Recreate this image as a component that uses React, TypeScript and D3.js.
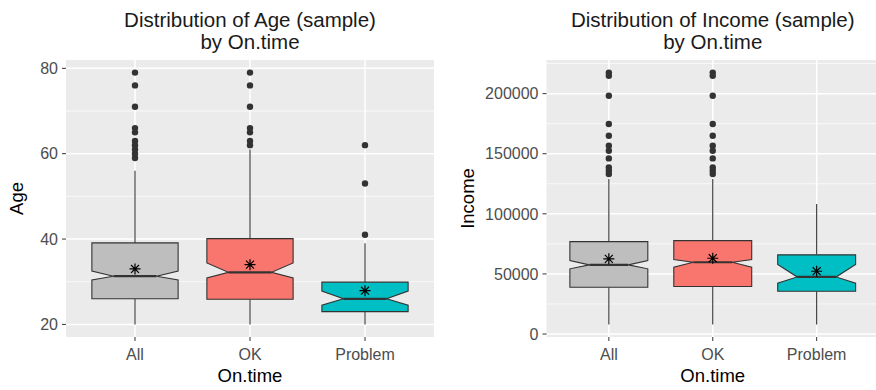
import * as d3 from "d3";

const categories = ["All", "OK", "Problem"];
const boxFills = ["#BEBEBE", "#F8766D", "#00BFC4"];

// Age (sample) by On.time
const ageLower = [20, 20, 20];
const ageQ1 = [26, 25.9, 23];
const ageNotchLo = [30.4, 30.9, 24.5];
const ageMedian = [31.3, 32.2, 26];
const ageNotchHi = [32.5, 34.4, 27.8];
const ageQ3 = [39.1, 40.1, 29.9];
const ageUpper = [56, 61, 39];
const ageMean = [33.0, 34.0, 27.9];
const ageOutliers = [
  [79, 76, 71, 66, 65, 63, 62, 61, 60, 59],
  [79, 76, 71, 66, 65, 63, 62],
  [62, 53, 41],
];
const ageMajor = [20, 40, 60, 80];
const ageMinor = [30, 50, 70];

// Income (sample) by On.time
const incLower = [8000, 8000, 8000];
const incQ1 = [38950, 39540, 35630];
const incNotchLo = [54240, 55570, 42280];
const incMedian = [57560, 59720, 47500];
const incNotchHi = [61130, 61960, 57810];
const incQ3 = [76900, 77740, 65870];
const incUpper = [129000, 129000, 108200];
const incMean = [62540, 63040, 52240];
const incOutliers = [
  [217500, 214800, 198200, 174700, 165000, 156600, 152500, 146100, 138600, 135900, 133100],
  [217500, 214800, 198200, 174700, 165000, 156600, 152500, 146100, 138600, 135900, 133100],
  [],
];
const incMajor = [0, 50000, 100000, 150000, 200000];
const incMinor = [25000, 75000, 125000, 175000, 225000];

const FONT = "'Liberation Sans', Arial, sans-serif";

function Panel({ x0, x1, y0, y1, title, yLabel, yLabelX, lower, q1, notchLo, median, notchHi, q3, upper, mean, outliers, major, minor }) {
  const lo = d3.min(lower);
  const hi = d3.max([...upper, ...outliers.flat()]);
  const pad = (hi - lo) * 0.05;
  const y = d3.scaleLinear().domain([lo - pad, hi + pad]).range([y1, y0]);
  const x = d3.scalePoint().domain(categories).range([x0, x1]).padding(0.6);
  const hw = (x.step() * 0.75) / 2;
  const nhw = hw * 0.5;
  const cx = (x0 + x1) / 2;

  return (
    <g>
      <text x={cx} y={27} textAnchor="middle" fontSize={20.5} fill="#1a1a1a" fontFamily={FONT}>{title}</text>
      <text x={cx} y={49} textAnchor="middle" fontSize={20.5} fill="#1a1a1a" fontFamily={FONT}>by On.time</text>
      <rect x={x0} y={y0} width={x1 - x0} height={y1 - y0} fill="#EBEBEB" />
      {minor.filter(v => y(v) > y0 && y(v) < y1).map(v => (
        <line key={"mi" + v} x1={x0} x2={x1} y1={y(v)} y2={y(v)} stroke="#fff" strokeWidth={0.7} />
      ))}
      {major.map(v => (
        <line key={"ma" + v} x1={x0} x2={x1} y1={y(v)} y2={y(v)} stroke="#fff" strokeWidth={1.5} />
      ))}
      {categories.map(c => (
        <line key={"vx" + c} x1={x(c)} x2={x(c)} y1={y0} y2={y1} stroke="#fff" strokeWidth={1.5} />
      ))}
      {categories.map((c, i) => {
        const px = x(c);
        const yQ3 = y(q3[i]), yQ1 = y(q1[i]), yNH = y(notchHi[i]), yNL = y(notchLo[i]), yM = y(median[i]);
        const path = d3.path();
        path.moveTo(px - hw, yQ3);
        path.lineTo(px + hw, yQ3);
        path.lineTo(px + hw, yNH);
        path.lineTo(px + nhw, yM);
        path.lineTo(px + hw, yNL);
        path.lineTo(px + hw, yQ1);
        path.lineTo(px - hw, yQ1);
        path.lineTo(px - hw, yNL);
        path.lineTo(px - nhw, yM);
        path.lineTo(px - hw, yNH);
        path.closePath();
        const my = y(mean[i]);
        const s = 5.5, d = s * 0.72;
        const star = `M${px - s},${my}L${px + s},${my}M${px},${my - s}L${px},${my + s}M${px - d},${my - d}L${px + d},${my + d}M${px - d},${my + d}L${px + d},${my - d}`;
        return (
          <g key={c}>
            {outliers[i].map((v, j) => (
              <circle key={j} cx={px} cy={y(v)} r={3.2} fill="#333333" />
            ))}
            <line x1={px} x2={px} y1={y(upper[i])} y2={yQ3} stroke="#333333" strokeWidth={1.1} />
            <line x1={px} x2={px} y1={yQ1} y2={y(lower[i])} stroke="#333333" strokeWidth={1.1} />
            <path d={path.toString()} fill={boxFills[i]} stroke="#333333" strokeWidth={1.1} />
            <line x1={px - nhw} x2={px + nhw} y1={yM} y2={yM} stroke="#333333" strokeWidth={2.2} />
            <path d={star} stroke="#000" strokeWidth={1.2} fill="none" />
          </g>
        );
      })}
      {major.map(v => (
        <g key={"yt" + v}>
          <line x1={x0 - 4} x2={x0} y1={y(v)} y2={y(v)} stroke="#333333" strokeWidth={1} />
          <text x={x0 - 8} y={y(v)} dy="0.36em" textAnchor="end" fontSize={16} fill="#4D4D4D" fontFamily={FONT}>{v}</text>
        </g>
      ))}
      {categories.map(c => (
        <g key={"xt" + c}>
          <line x1={x(c)} x2={x(c)} y1={y1} y2={y1 + 4} stroke="#333333" strokeWidth={1} />
          <text x={x(c)} y={y1 + 23} textAnchor="middle" fontSize={16} fill="#4D4D4D" fontFamily={FONT}>{c}</text>
        </g>
      ))}
      <text x={cx} y={382} textAnchor="middle" fontSize={18.5} fill="#000" fontFamily={FONT}>On.time</text>
      <text transform={`translate(${yLabelX},${(y0 + y1) / 2}) rotate(-90)`} textAnchor="middle" fontSize={18.5} fill="#000" fontFamily={FONT}>{yLabel}</text>
    </g>
  );
}

export default function App() {
  return (
    <svg width={876} height={390} style={{ position: "absolute", left: 0, top: 0, background: "#fff" }}>
      <rect width={876} height={390} fill="#fff" />
      <Panel x0={66} x1={434} y0={60} y1={337} title="Distribution of Age (sample)" yLabel="Age" yLabelX={23}
        lower={ageLower} q1={ageQ1} notchLo={ageNotchLo} median={ageMedian} notchHi={ageNotchHi} q3={ageQ3}
        upper={ageUpper} mean={ageMean} outliers={ageOutliers} major={ageMajor} minor={ageMinor} />
      <Panel x0={546.5} x1={879} y0={60} y1={337} title="Distribution of Income (sample)" yLabel="Income" yLabelX={473.5}
        lower={incLower} q1={incQ1} notchLo={incNotchLo} median={incMedian} notchHi={incNotchHi} q3={incQ3}
        upper={incUpper} mean={incMean} outliers={incOutliers} major={incMajor} minor={incMinor} />
    </svg>
  );
}
